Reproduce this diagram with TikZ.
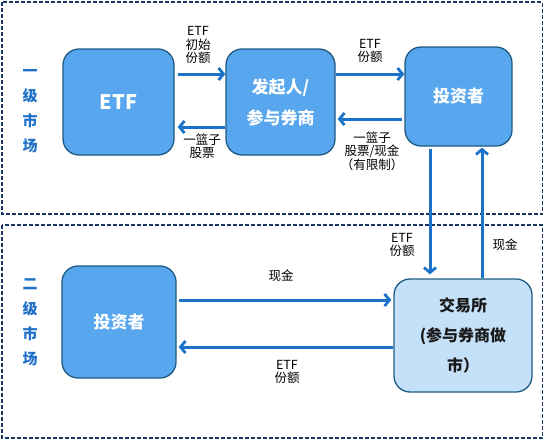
\documentclass[tikz,border=0pt]{standalone}
\usepackage{fontspec}
\setmainfont{Noto Sans CJK SC}
\usetikzlibrary{arrows.meta}
\definecolor{boxfill}{RGB}{88,166,238}
\definecolor{boxline}{RGB}{30,90,130}
\definecolor{lightfill}{RGB}{197,225,250}
\definecolor{arrcol}{RGB}{26,115,200}
\definecolor{framecol}{RGB}{25,55,100}
\definecolor{sidecol}{RGB}{30,112,200}
\tikzset{
  frame/.style={draw=framecol, line width=1.4pt, dash pattern=on 4pt off 2pt},
  bluebox/.style={draw=boxline, line width=1.3pt, fill=boxfill, rounded corners=16pt, text=white,
     font=\fontsize{17}{31}\selectfont\bfseries, align=center, inner sep=0pt},
  lightbox/.style={draw=boxline, line width=1.3pt, fill=lightfill, rounded corners=16pt, text=black!90,
     font=\fontsize{16}{30}\selectfont\bfseries, align=center, inner sep=0pt},
  arr/.style={draw=arrcol, line width=3pt, -{Straight Barb[length=5pt,width=12pt,line width=2.8pt]}},
  lbl/.style={font=\fontsize{12.5}{13.5}\selectfont, align=center, inner sep=0pt, text=black},
  side/.style={font=\fontsize{15}{25}\selectfont\bfseries, align=center, text=sidecol, inner sep=0pt}
}
\begin{document}
\begin{tikzpicture}[x=1pt,y=-1pt]
\useasboundingbox (0,0) rectangle (545,440);
\draw[frame] (2,2) rectangle (542.5,214);
\draw[frame] (2,225) rectangle (542.5,438);

\node[side] (s1) at (30,111) {一\\级\\市\\场};
\node[side] (s2) at (30,322) {二\\级\\市\\场};

\node[bluebox, minimum width=111pt, minimum height=106pt, font=\fontsize{20}{20}\selectfont\bfseries] (etf) at (118.5,102) {ETF};
\node[bluebox, minimum width=109pt, minimum height=106pt] (fq) at (280.5,102) {发起人/\\参与券商};
\node[bluebox, minimum width=107pt, minimum height=99pt] (tz1) at (458.5,96.5) {投资者};
\node[bluebox, minimum width=114pt, minimum height=112pt] (tz2) at (119,322) {投资者};
\node[lightbox, minimum width=138pt, minimum height=113pt] (jys) at (463,335.5) {交易所\\(参与券商做\\市）};

% top row arrows
\coordinate (a1) at ([yshift=28pt,xshift=3pt]etf.east);
\draw[arr] (a1) -- (a1 -| fq.west);
\coordinate (a2) at ([yshift=-25pt]fq.west);
\draw[arr] (a2) -- ([xshift=3pt]a2 -| etf.east);
\coordinate (a3) at ([yshift=28pt]fq.east);
\draw[arr] (a3) -- (a3 -| tz1.west);
\coordinate (a4) at ([yshift=-17pt,xshift=-2pt]fq.east -| tz1.west);
\draw[arr] (a4) -- ([xshift=2pt]a4 -| fq.east);

% vertical arrows
\coordinate (v1) at ([xshift=-28.5pt,yshift=-2pt]tz1.south);
\draw[arr] (v1) -- ([yshift=4pt]v1 |- jys.north);
\coordinate (v2) at ([xshift=23.5pt]tz1.south);
\draw[arr] (v2 |- jys.north) -- ([yshift=-1pt]v2);

% bottom arrows
\coordinate (b1) at ([yshift=22pt,xshift=2pt]tz2.east);
\draw[arr] (b1) -- ([xshift=-2pt]b1 -| jys.west);
\coordinate (b2) at ([yshift=-25pt]tz2.east -| jys.west);
\draw[arr] (b2) -- ([xshift=2pt]b2 -| tz2.east);

% labels
\node[lbl] (l1) at (198,45) {ETF\\初始\\份额};
\node[lbl] (l2) at (202,146) {一篮子\\股票};
\node[lbl] (l3) at (370,51) {ETF\\份额};
\node[lbl] (l4) at (372,151) {一篮子\\股票/现金\\（有限制）};
\node[lbl] (l5) at (402,245) {ETF\\份额};
\node[lbl] (l6) at (505,245) {现金};
\node[lbl] (l7) at (281,276) {现金};
\node[lbl] (l8) at (287,372) {ETF\\份额};
\end{tikzpicture}
\end{document}
